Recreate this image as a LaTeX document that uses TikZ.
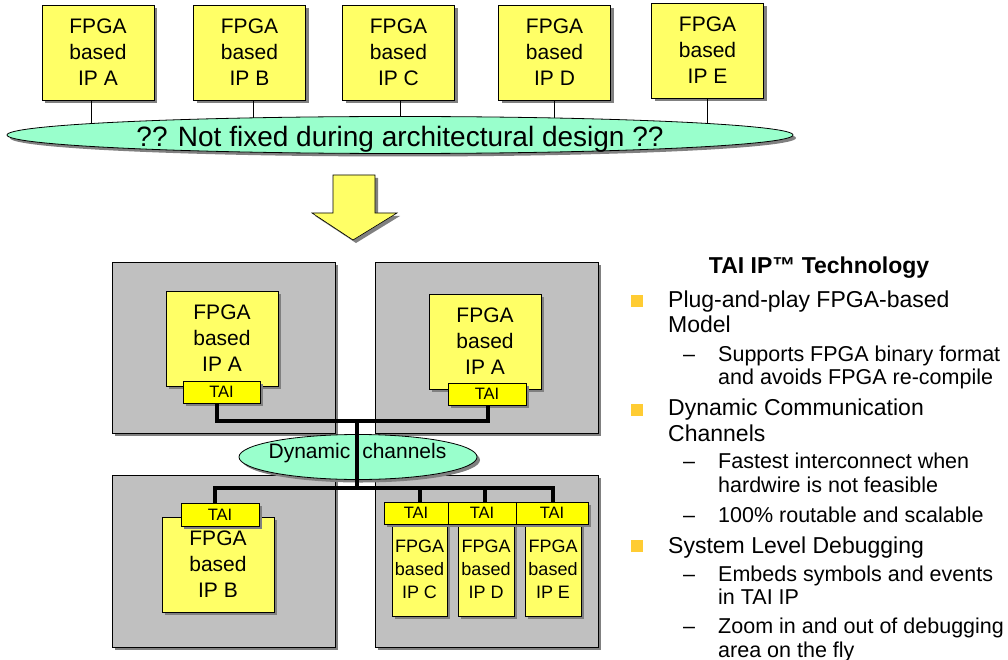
\documentclass[tikz,border=0pt]{standalone}
\usepackage{fontspec}
\setmainfont{Liberation Sans}
\usetikzlibrary{shadows,shapes.geometric,calc}
\definecolor{ipyellow}{HTML}{FFFF66}
\definecolor{taiyellow}{HTML}{FFFF00}
\definecolor{mint}{HTML}{99FFCC}
\definecolor{boxgray}{HTML}{C0C0C0}
\definecolor{bulletc}{HTML}{FFCC33}
\definecolor{shadowc}{HTML}{808080}
\begin{document}
\begin{tikzpicture}[x=1pt,y=-1pt,
 shad/.style={drop shadow={shadow xshift=3pt,shadow yshift=-3pt,fill=shadowc,opacity=1}},
 ipbox/.style={draw=black,line width=0.8pt,fill=ipyellow,shad,align=center,inner sep=0pt,
   minimum width=112pt,minimum height=95pt,font=\fontsize{21}{26}\selectfont},
 ipsmall/.style={ipbox,minimum width=55pt,minimum height=93pt,font=\fontsize{18}{23}\selectfont},
 tai/.style={draw=black,line width=0.8pt,fill=taiyellow,shad,inner sep=0pt,minimum height=22pt,
   font=\fontsize{16.5}{18}\selectfont},
 graybox/.style={draw=black,line width=0.8pt,fill=boxgray,shad,minimum width=223pt,minimum height=171pt,inner sep=0pt},
 ellp/.style={ellipse,draw=black,line width=0.8pt,fill=mint,shad,inner sep=0pt},
 conn/.style={line width=0.8pt},
 bus/.style={line width=3.2pt},
 txt/.style={anchor=base west,inner sep=0pt,font=\fontsize{23}{25}\selectfont},
 subtxt/.style={anchor=base west,inner sep=0pt,font=\fontsize{21.5}{24}\selectfont},
 bsq/.style={anchor=south west,fill=bulletc,minimum size=12pt,inner sep=0pt}
]
\useasboundingbox (0,0) rectangle (1008,660);

% ---- top row ----
\node[ipbox] (tA) at (98,52.5) {FPGA\\based\\IP A};
\node[ipbox] (tB) at (249.5,52.5) {FPGA\\based\\IP B};
\node[ipbox] (tC) at (398.5,52.5) {FPGA\\based\\IP C};
\node[ipbox] (tD) at (554.5,52.5) {FPGA\\based\\IP D};
\node[ipbox] (tE) at (707.5,50.5) {FPGA\\based\\IP E};
\coordinate (nfc) at (400,135);
\draw[conn] ([xshift=-7pt]tA.south) -- ([xshift=-7pt]tA.south |- nfc);
\draw[conn] ([xshift=3.5pt]tB.south) -- ([xshift=3.5pt]tB.south |- nfc);
\draw[conn] ([xshift=1.5pt]tC.south) -- ([xshift=1.5pt]tC.south |- nfc);
\draw[conn] (tD.south) -- (tD.south |- nfc);
\draw[conn] (tE.south) -- (tE.south |- nfc);
\node[ellp,minimum width=786pt,minimum height=37pt] (nf) at (nfc) {};
\node[inner sep=0pt,anchor=base,font=\fontsize{28}{30}\selectfont] (nftext) at (400,146.5) {?? Not fixed during architectural design ??};

% ---- arrow ----
\filldraw[fill=ipyellow,draw=black,line width=0.6pt,shad]
  (333,175) -- (375,175) -- (375,213) -- (397,213) -- (353,240) -- (312,213) -- (333,213) -- cycle;

% ---- gray regions ----
\node[graybox] (gTL) at (223.5,347.5) {};
\node[graybox] (gTR) at (486.5,347.5) {};
\node[graybox,minimum height=172pt] (gBL) at (223.5,561) {};
\node[graybox,minimum height=172pt] (gBR) at (486.5,561) {};

% ---- dynamic channels ----
\node[ellp,minimum width=238pt,minimum height=45pt] (dc) at (358,457) {};

% ---- IP boxes and TAIs ----
\node[ipbox] (ipA1) at (222,338.5) {FPGA\\based\\IP A};
\node[tai,minimum width=77pt] (taiA1) at (221.5,392) {TAI};
\node[ipbox] (ipA2) at (485,341.5) {FPGA\\based\\IP A};
\node[tai,minimum width=78pt] (taiA2) at (487,394) {TAI};
\node[ipbox] (ipB) at (218,564.5) {FPGA\\based\\IP B};
\node[tai,minimum width=78pt,minimum height=23pt] (taiB) at (220,514.5) {TAI};
\node[ipsmall] (ipC) at (419.5,569.5) {FPGA\\based\\IP C};
\node[ipsmall,minimum width=56pt] (ipD) at (486,569.5) {FPGA\\based\\IP D};
\node[ipsmall,minimum width=56pt] (ipE) at (553,569.5) {FPGA\\based\\IP E};
\node[tai,minimum width=64pt] (taiC) at (416,513) {TAI};
\node[tai,minimum width=68pt] (taiD) at (482,513) {TAI};
\node[tai,minimum width=72pt] (taiE) at (552,513) {TAI};

% ---- buses ----
\coordinate (hu) at (357,421);
\coordinate (hl) at (357,488);
\draw[bus] ([xshift=-4.5pt]taiA1.south) |- (hu) -| ([xshift=1pt]taiA2.south);
\draw[bus] (hu) -- (hl);
\draw[bus] ([xshift=-5pt]taiB.north) |- (hl) -| ([xshift=1pt]taiE.north);
\draw[bus] ([xshift=4pt]taiC.north) -- ([xshift=4pt]taiC.north |- hl);
\draw[bus] ([xshift=3pt]taiD.north) -- ([xshift=3pt]taiD.north |- hl);
\node[inner sep=0pt,font=\fontsize{21}{24}\selectfont,anchor=base] (dctext) at (357.5,458) {Dynamic\hspace{12pt}channels};

% ---- right panel ----
\node[anchor=base,inner sep=0pt,font=\bfseries\fontsize{23}{25}\selectfont] (title) at (819,273) {TAI IP™ Technology};
\node[bsq] (b1) at (631,307) {};
\node[txt] (l1) at (668,307) {Plug-and-play FPGA-based};
\node[txt] (l2) at (668,332) {Model};
\node[subtxt] (d1) at (683,361) {–};
\node[subtxt] (l3) at (718,361) {Supports FPGA binary format};
\node[subtxt] (l4) at (718,384) {and avoids FPGA re-compile};
\node[bsq] (b2) at (631,416) {};
\node[txt] (l5) at (668,415) {Dynamic Communication};
\node[txt] (l6) at (668,441) {Channels};
\node[subtxt] (d2) at (683,468) {–};
\node[subtxt] (l7) at (718,468) {Fastest interconnect when};
\node[subtxt] (l8) at (718,492) {hardwire is not feasible};
\node[subtxt] (d3) at (683,522) {–};
\node[subtxt] (l9) at (718,522) {100\% routable and scalable};
\node[bsq] (b3) at (631,552) {};
\node[txt] (l10) at (668,553) {System Level Debugging};
\node[subtxt] (d4) at (683,581) {–};
\node[subtxt] (l11) at (718,581) {Embeds symbols and events};
\node[subtxt] (l12) at (718,604) {in TAI IP};
\node[subtxt] (d5) at (683,633) {–};
\node[subtxt] (l13) at (718,633) {Zoom in and out of debugging};
\node[subtxt] (l14) at (718,657) {area on the fly};
\end{tikzpicture}
\end{document}
